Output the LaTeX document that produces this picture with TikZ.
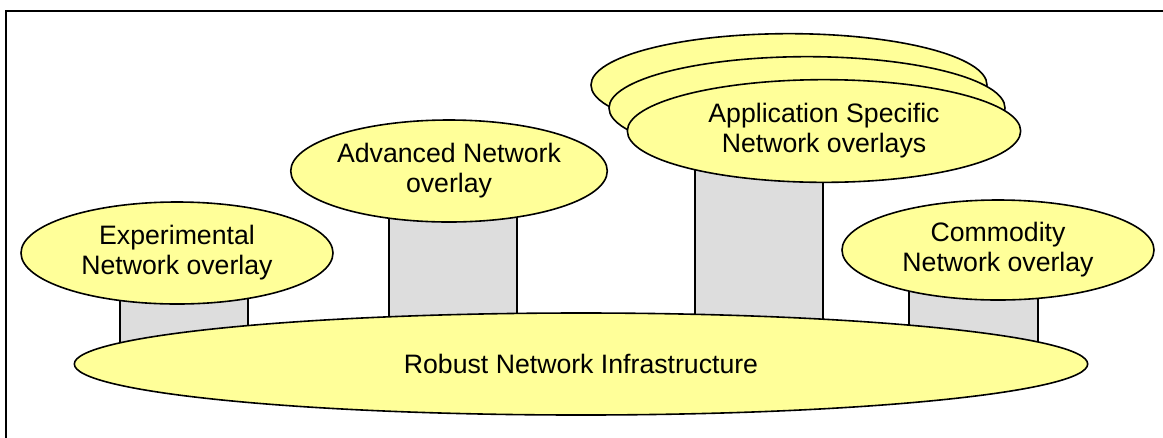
\documentclass[tikz,border=0pt]{standalone}
\usepackage{fontspec}
\setmainfont{Liberation Sans}
\usetikzlibrary{shapes.geometric}

\definecolor{overlayyellow}{HTML}{FFFF99}
\definecolor{pillargray}{HTML}{DDDDDD}

\tikzset{
  layer/.style={ellipse, draw=black, line width=1.2pt, fill=overlayyellow,
    inner sep=0pt, align=center, font=\fontsize{20}{22.5}\selectfont},
  pillar/.style={draw=black, line width=1.2pt, fill=pillargray}
}

\begin{document}
\begin{tikzpicture} [x=0.75pt, y=-0.75pt]
\useasboundingbox (0,0) rectangle (1163,437);
\draw[line width=1.5pt] (6,460) -- (6,11) -- (1180,11);
% pillars under the overlays
\draw[pillar] (120,265) rectangle (248,355);
\draw[pillar] (389,190) rectangle (517,335);
\draw[pillar] (695,150) rectangle (823,335);
\draw[pillar] (909,265) rectangle (1038,355);
% base
\node[layer, minimum width=760pt, minimum height=76.5pt] (base) at (581,364) {Robust Network Infrastructure};
% overlays
\node[layer, minimum width=234pt, minimum height=76.5pt] (exp) at (177,253) {Experimental\\Network overlay};
\node[layer, minimum width=227pt, minimum height=76.5pt] (adv) at (449,171) {Advanced Network\\overlay};
\node[layer, minimum width=297pt, minimum height=77pt] (app3) at (789,85) {};
\node[layer, minimum width=297pt, minimum height=77pt] (app2) at (807,108) {};
\node[layer, minimum width=295pt, minimum height=77pt] (app1) at (824,131) {Application Specific\\Network overlays};
\node[layer, minimum width=234pt, minimum height=75pt] (com) at (998,250) {Commodity\\Network overlay};
\end{tikzpicture}
\end{document}
